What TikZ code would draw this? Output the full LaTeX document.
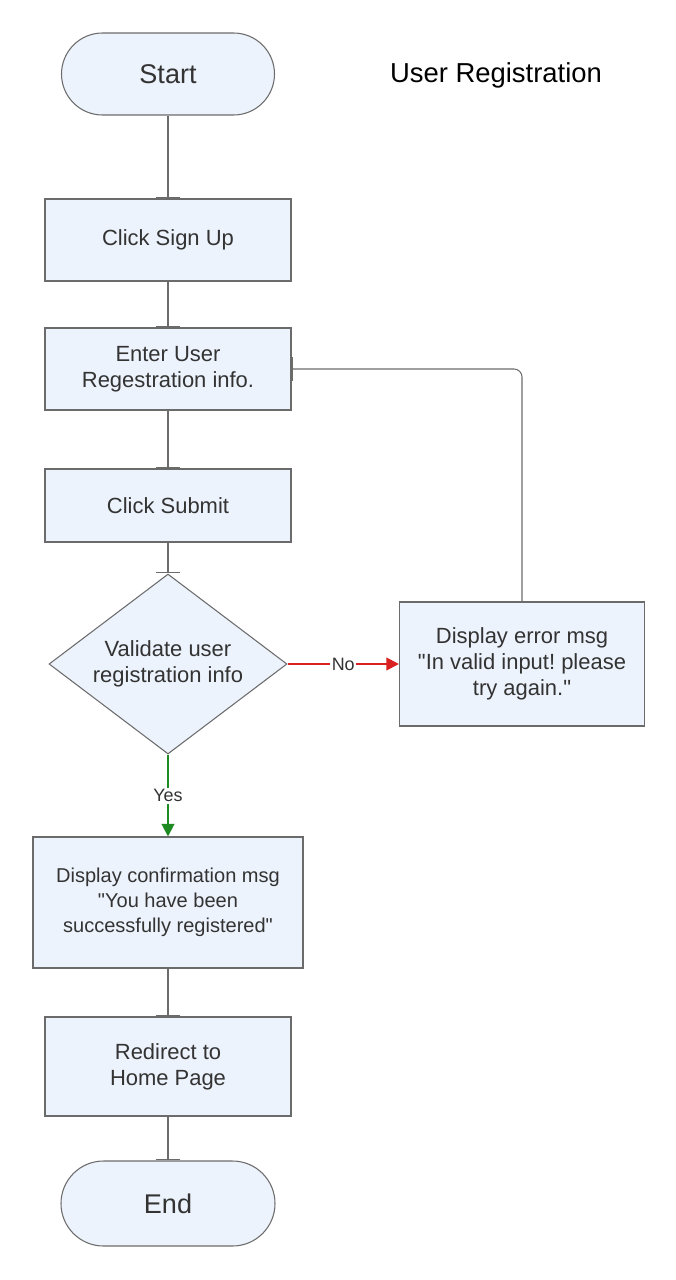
\documentclass[tikz,border=0pt]{standalone}
\usepackage{fontspec}
\setmainfont{Liberation Sans}[Ligatures=TeXOff]
\frenchspacing
\usetikzlibrary{shapes.geometric, arrows.meta}

\definecolor{boxfill}{HTML}{EDF3FC}
\definecolor{boxline}{HTML}{6B6B6B}
\definecolor{boxtext}{HTML}{333333}
\definecolor{noline}{HTML}{D92121}
\definecolor{yesline}{HTML}{1E8A22}

\begin{document}
\begin{tikzpicture}[
	box/.style = {draw = boxline, fill = boxfill, text = boxtext, line width = 0.6pt, align = center,
		font = \fontsize{12.5}{14.8}\selectfont, minimum width = 4.92cm, minimum height = 1.64cm},
	terminal/.style = {box, rounded corners = 0.82cm, minimum width = 4.26cm, font = \fontsize{15.4}{18}\selectfont},
	decision/.style = {box, diamond, aspect = 1.32, minimum width = 4.76cm, minimum height = 3.6cm, inner sep = 0pt},
	flow/.style = {draw = boxline, line width = 0.6pt, -{Bar[width = 0.48cm]}},
	branch/.style = {line width = 1.2pt, -{Triangle[length = 0.25cm, width = 0.25cm]}},
	tag/.style = {fill = white, text = boxtext, inner sep = 1pt, font = \fontsize{10.2}{12}\selectfont}
]
	
	\useasboundingbox (0, 0) rectangle (13.52, -25.6);
	
	% Title
	
	\node (title) at (9.92, -1.5) {\fontsize{15.6}{18}\selectfont User Registration};
	
	% Main column
	
	\node [terminal] (start) at (3.36, -1.48) {Start};
	\node [box] (signup) at (3.36, -4.8) {Click Sign Up};
	\node [box] (enter) at (3.36, -7.38) {Enter User\\Regestration info.};
	\node [box, minimum height = 1.46cm] (submit) at (3.36, -10.11) {Click Submit};
	\node [decision] (check) at (3.36, -13.28) {Validate user\\registration info};
	\node [box, minimum width = 5.4cm, minimum height = 2.62cm, font = \fontsize{11.4}{14.2}\selectfont]
		(confirm) at (3.36, -18.05) {Display confirmation msg\\"You have been\\successfully registered"};
	\node [box, minimum height = 1.98cm] (redirect) at (3.36, -21.33) {Redirect to\\Home Page};
	\node [terminal, minimum width = 4.28cm, minimum height = 1.7cm, rounded corners = 0.85cm]
		(finish) at (3.36, -24.07) {End};
	
	% Error branch
	
	\node [box, minimum width = 4.9cm, minimum height = 2.48cm] (error) at (10.44, -13.28)
		{Display error msg\\"In valid input! please\\try again."};
	
	% Plain connectors
	
	\draw [flow] (start) -- (signup);
	\draw [flow] (signup) -- (enter);
	\draw [flow] (enter) -- (submit);
	\draw [flow] (submit) -- (check);
	\draw [flow] (confirm) -- (redirect);
	\draw [flow] (redirect) -- (finish);
	\draw [flow, rounded corners = 0.16cm] (error.north) |- (enter.east);
	
	% Decision outcomes
	
	\draw [branch, noline] (check) -- node [tag] {No} (error);
	\draw [branch, yesline] (check) -- node [tag] {Yes} (confirm);

\end{tikzpicture}
\end{document}
